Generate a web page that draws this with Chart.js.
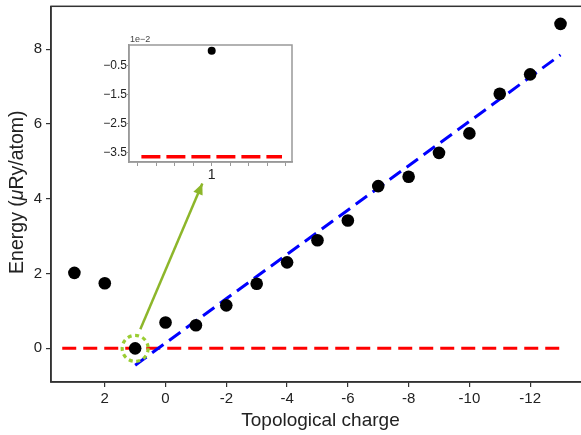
<!DOCTYPE html>
<html><head><meta charset="utf-8">
<script src="https://cdn.jsdelivr.net/npm/chart.js@4.4.1/dist/chart.umd.min.js"></script>
<style>
html,body{margin:0;padding:0;background:#fff;overflow:hidden;}
#wrap{position:relative;width:600px;height:435px;}
#main,#inset{position:absolute;left:0;top:0;}
</style></head><body>
<div id="wrap"><canvas id="main" width="600" height="435"></canvas><canvas id="inset" width="600" height="435"></canvas></div>
<script>
// ---- data ----
const charges  = [3, 2, 1, 0, -1, -2, -3, -4, -5, -6, -7, -8, -9, -10, -11, -12, -13];
const energies = [2.02, 1.74, 0.0, 0.69, 0.62, 1.15, 1.73, 2.30, 2.89, 3.42, 4.34, 4.59, 5.23, 5.75, 6.81, 7.33, 8.68];
const fitX = [1, -13];
const fitY = [-0.45, 7.85];
const refX = [3.4, -13];
const refY = [0, 0];
const arrowX = [0.83, -1.21];
const arrowY = [0.51, 4.41];
const xTicks = [2, 0, -2, -4, -6, -8, -10, -12];
const yTicks = [0, 2, 4, 6, 8];
const insetX = [1];
const insetY = [0.02];
const insetRefX = [0.62, 1.38];
const insetRefY = [-3.65, -3.65];
const insetXTicks = [0.6, 0.7, 0.8, 0.9, 1.0, 1.1, 1.2, 1.3, 1.4];
const insetYTicks = [-0.5, -1.5, -2.5, -3.5];

const FONT = "'Liberation Sans', Arial, Helvetica, sans-serif";
const pts = (xs, ys) => xs.map((x, i) => ({x: x, y: ys[i]}));
const noPad = s => { s.paddingLeft = 0; s.paddingRight = 0; s.paddingTop = 0; s.paddingBottom = 0; };

const framePlugin = {
  id: 'frame',
  beforeDraw(chart, args, opts) {
    if (opts.fill) {
      const a = chart.chartArea, c = chart.ctx;
      c.save(); c.fillStyle = '#fff';
      c.fillRect(a.left, a.top, a.right - a.left, a.bottom - a.top);
      c.restore();
    }
  },
  afterDraw(chart, args, opts) {
    const a = chart.chartArea, c = chart.ctx;
    c.save();
    c.strokeStyle = opts.color; c.lineWidth = opts.width;
    c.strokeRect(a.left, a.top, a.right - a.left, a.bottom - a.top);
    c.restore();
  }
};

const decoPlugin = {
  id: 'deco',
  afterDatasetsDraw(chart) {
    const c = chart.ctx, xs = chart.scales.x, ys = chart.scales.y;
    // dotted circle around the ground state
    c.save();
    c.strokeStyle = '#9acd32'; c.lineWidth = 3.2; c.setLineDash([4, 3.6]);
    c.beginPath();
    c.arc(xs.getPixelForValue(charges[2]), ys.getPixelForValue(energies[2]), 13, 0, Math.PI * 2);
    c.stroke();
    c.restore();
    // arrow head
    const meta = chart.getDatasetMeta(3);
    const p0 = meta.data[0], p1 = meta.data[1];
    const ang = Math.atan2(p1.y - p0.y, p1.x - p0.x);
    const L = 11, W = 5;
    c.save();
    c.fillStyle = '#8db62a';
    c.beginPath();
    c.moveTo(p1.x, p1.y);
    c.lineTo(p1.x - L * Math.cos(ang) + W * Math.sin(ang), p1.y - L * Math.sin(ang) - W * Math.cos(ang));
    c.lineTo(p1.x - L * Math.cos(ang) - W * Math.sin(ang), p1.y - L * Math.sin(ang) + W * Math.cos(ang));
    c.closePath(); c.fill();
    c.restore();
    // y axis title with italic mu
    const a = chart.chartArea;
    const parts = [['Energy (', 'normal'], ['\u03bc', 'italic'], ['Ry/atom)', 'normal']];
    const fs = '19.5px ';
    c.save();
    let total = 0;
    parts.forEach(p => { c.font = p[1] + ' ' + fs + FONT; total += c.measureText(p[0]).width; });
    c.translate(18, (a.top + a.bottom) / 2 - 2);
    c.rotate(-Math.PI / 2);
    c.fillStyle = '#222'; c.textBaseline = 'middle'; c.textAlign = 'left';
    let x = -total / 2;
    parts.forEach(p => { c.font = p[1] + ' ' + fs + FONT; c.fillText(p[0], x, 0); x += c.measureText(p[0]).width; });
    c.restore();
  }
};

new Chart(document.getElementById('main'), {
  type: 'scatter',
  data: {
    datasets: [
      {data: pts(charges, energies), pointRadius: 6.3, pointHoverRadius: 6.3, backgroundColor: '#000', borderWidth: 0},
      {data: pts(fitX, fitY), showLine: true, pointRadius: 0, borderColor: '#0000ff', borderWidth: 3, borderDash: [14, 7]},
      {data: pts(refX, refY), showLine: true, pointRadius: 0, borderColor: '#ff0000', borderWidth: 3, borderDash: [14, 7]},
      {data: pts(arrowX, arrowY), showLine: true, pointRadius: 0, borderColor: '#8db62a', borderWidth: 2.5}
    ]
  },
  options: {
    responsive: false, animation: false, devicePixelRatio: 1,
    layout: {padding: {left: 0, top: 5, right: 10, bottom: 0}},
    plugins: {legend: {display: false}, tooltip: {enabled: false}, frame: {color: '#333', width: 1.5}},
    scales: {
      x: {
        type: 'linear', reverse: true, min: -13.97, max: 3.77,
        afterFit: s => { s.height = 53; noPad(s); },
        afterBuildTicks: s => { s.ticks = xTicks.map(v => ({value: v})); },
        ticks: {font: {family: FONT, size: 15}, color: '#222', padding: 3, callback: v => String(v)},
        grid: {drawOnChartArea: false, drawTicks: true, tickLength: 5, color: '#333', lineWidth: 1.2},
        border: {display: true, color: '#333', width: 1.5},
        title: {display: true, text: 'Topological charge', font: {family: FONT, size: 19}, color: '#222', padding: {top: 0, bottom: 3}}
      },
      y: {
        min: -0.9, max: 9.15,
        afterFit: s => { s.width = 51; noPad(s); },
        afterBuildTicks: s => { s.ticks = yTicks.map(v => ({value: v})); },
        ticks: {font: {family: FONT, size: 15}, color: '#222', padding: 4, callback: v => String(v)},
        grid: {drawOnChartArea: false, drawTicks: true, tickLength: 5, color: '#333', lineWidth: 1.2},
        border: {display: true, color: '#333', width: 1.5}
      }
    }
  },
  plugins: [framePlugin, decoPlugin]
});

const insetLabelPlugin = {
  id: 'insetLabel',
  afterDraw(chart) {
    const c = chart.ctx, a = chart.chartArea;
    c.save();
    c.font = '9px ' + FONT; c.fillStyle = '#444'; c.textAlign = 'left'; c.textBaseline = 'bottom';
    c.fillText('1e\u22122', a.left + 1, a.top - 0.5);
    c.restore();
  }
};

new Chart(document.getElementById('inset'), {
  type: 'scatter',
  data: {
    datasets: [
      {data: pts(insetX, insetY), pointRadius: 4, pointHoverRadius: 4, backgroundColor: '#000', borderWidth: 0},
      {data: pts(insetRefX, insetRefY), showLine: true, pointRadius: 0, borderColor: '#ff0000', borderWidth: 3.5, borderDash: [19, 6]}
    ]
  },
  options: {
    responsive: false, animation: false, devicePixelRatio: 1,
    layout: {padding: {left: 89, top: 45, right: 308, bottom: 248}},
    plugins: {legend: {display: false}, tooltip: {enabled: false}, frame: {color: '#999', width: 1.5, fill: true}},
    scales: {
      x: {
        type: 'linear', min: 0.553, max: 1.434,
        afterFit: s => { s.height = 25; noPad(s); },
        afterBuildTicks: s => { s.ticks = insetXTicks.map(v => ({value: v})); },
        ticks: {font: {family: FONT, size: 14}, color: '#222', padding: 1, autoSkip: false, maxRotation: 0,
                callback: v => (Math.abs(v - 1) < 1e-9 ? '1' : '')},
        grid: {drawOnChartArea: false, drawTicks: true, tickLength: 4, color: '#999', lineWidth: 1},
        border: {display: true, color: '#999', width: 1.5}
      },
      y: {
        min: -3.83, max: 0.22,
        afterFit: s => { s.width = 40; noPad(s); },
        afterBuildTicks: s => { s.ticks = insetYTicks.map(v => ({value: v})); },
        ticks: {font: {family: FONT, size: 12}, color: '#222', padding: 0,
                callback: v => String(v).replace('-', '\u2212')},
        grid: {drawOnChartArea: false, drawTicks: true, tickLength: 2, color: '#999', lineWidth: 1},
        border: {display: true, color: '#999', width: 1.5}
      }
    }
  },
  plugins: [framePlugin, insetLabelPlugin]
});
</script>
</body></html>
